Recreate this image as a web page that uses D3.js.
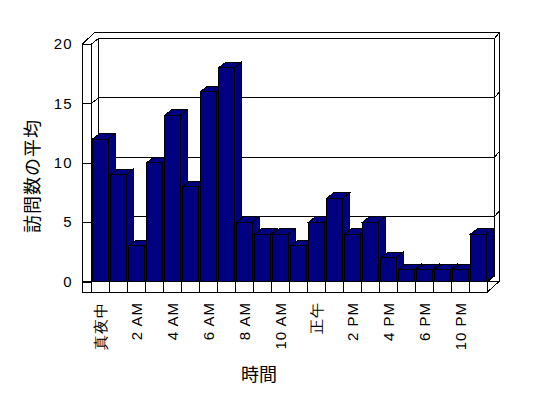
<!DOCTYPE html>
<html>
<head>
<meta charset="utf-8">
<script src="https://cdn.jsdelivr.net/npm/d3@7"></script>
<style>
  body { margin: 0; background: #fff; }
  svg { display: block; font-family: "Liberation Sans", "Noto Sans CJK JP", sans-serif; }
</style>
</head>
<body>
<svg></svg>
<script>
// Defining variables
const width = 548
const height = 398

// chart data
const hours = ['真夜中', '1 AM', '2 AM', '3 AM', '4 AM', '5 AM', '6 AM', '7 AM', '8 AM', '9 AM', '10 AM', '11 AM',
               '正午', '1 PM', '2 PM', '3 PM', '4 PM', '5 PM', '6 PM', '7 PM', '10 PM', '11 PM']
const visits = [12, 9, 3, 10, 14, 8, 16, 18, 5, 4, 4, 3, 5, 7, 4, 5, 2, 1, 1, 1, 1, 4]
const yTicks = [0, 5, 10, 15, 20]
const xLabels = hours.filter((d, i) => i % 2 === 0)
const yTitle = '訪問数の平均'
const xTitle = '時間'

// 3d box layout
const x0 = 91.5, x1 = 487.5
const wallOuter = 82.5
const floorBottom = 292
const dx = 7, dy = -5.5       // depth of the plot
const tx = 5, ty = -6         // wall thickness

const svg = d3.select('svg')
                .attr('width', width)
                .attr('height', height)

const xScale = d3.scaleBand()
                .domain(hours)
                .range([x0, x1])
                .paddingInner(0.13)
                .paddingOuter(0.065)

const yScale = d3.scaleLinear()
                .domain([0, 20])
                .range([281.5, 44])

const pts = arr => arr.map(p => p.join(',')).join(' ')

let drawWalls = () => {
    const yTop = yScale(20), yBase = yScale(0)
    const g = svg.append('g')
                .attr('fill', '#fff')
                .attr('stroke', '#000')
                .attr('shape-rendering', 'crispEdges')

    // outer silhouette
    g.append('polygon')
        .attr('points', pts([[wallOuter, yTop], [wallOuter + dx + tx, yTop + dy + ty], [x1 + dx + tx, yTop + dy + ty],
                             [x1 + dx + tx, yBase + dy + ty + 11], [x1, floorBottom], [wallOuter, floorBottom]]))

    // back wall face
    g.append('rect')
        .attr('x', x0 + dx).attr('y', yTop + dy)
        .attr('width', x1 - x0).attr('height', yBase - yTop)

    g.append('line')
        .attr('x1', x1 + dx).attr('y1', yTop + dy)
        .attr('x2', x1 + dx + tx).attr('y2', yTop + dy + ty)

    // left wall inner face
    g.append('polygon')
        .attr('points', pts([[x0, yTop], [x0 + dx, yTop + dy], [x0 + dx, yBase + dy], [x0, yBase]]))

    // gridlines
    yTicks.filter(v => v > 0 && v < 20).forEach(v => {
        const y = yScale(v)
        g.append('polyline')
            .attr('fill', 'none')
            .attr('points', pts([[x0, y], [x0 + dx, y + dy], [x1 + dx, y + dy], [x1 + dx + tx, y + dy + ty]]))
    })

    // floor top and right edges
    g.append('polygon')
        .attr('points', pts([[x0, yBase], [x1, yBase], [x1 + dx, yBase + dy], [x0 + dx, yBase + dy]]))
    g.append('line')
        .attr('x1', x1).attr('y1', yBase)
        .attr('x2', x1 + dx + tx).attr('y2', yBase + dy + ty + 11)

    // left wall front face
    g.append('rect')
        .attr('x', wallOuter).attr('y', yTop)
        .attr('width', x0 - wallOuter).attr('height', floorBottom - yTop)
    g.append('line')
        .attr('x1', x0).attr('y1', yTop)
        .attr('x2', x0 + dx).attr('y2', yTop + dy)

    // floor front face with category cells
    g.append('rect')
        .attr('x', wallOuter).attr('y', yBase)
        .attr('width', x1 - wallOuter).attr('height', floorBottom - yBase)
    hours.forEach((h, i) => {
        const x = x0 + xScale.step() * i
        g.append('line')
            .attr('x1', x).attr('y1', yBase)
            .attr('x2', x).attr('y2', floorBottom)
    })
}

let drawBars = () => {
    const w = xScale.bandwidth()
    const base = yScale(0)
    const bars = svg.append('g')
                    .selectAll('g')
                    .data(hours.map((h, i) => ({ hour: h, value: visits[i] })))
                    .enter()
                    .append('g')
                    .attr('fill', '#000080')
                    .attr('stroke', '#000')
                    .attr('shape-rendering', 'crispEdges')

    bars.append('polygon')
        .attr('points', d => {
            const x = xScale(d.hour), y = yScale(d.value)
            return pts([[x + w, y], [x + w + dx, y + dy], [x + w + dx, base + dy], [x + w, base]])
        })
    bars.append('polygon')
        .attr('points', d => {
            const x = xScale(d.hour), y = yScale(d.value)
            return pts([[x, y], [x + w, y], [x + w + dx, y + dy], [x + dx, y + dy]])
        })
    bars.append('rect')
        .attr('x', d => xScale(d.hour))
        .attr('y', d => yScale(d.value))
        .attr('width', w)
        .attr('height', d => base - yScale(d.value))
}

let generateAxes = () => {
    const yAxis = d3.axisLeft(yScale)
                    .tickValues(yTicks)
                    .tickSize(x0 - wallOuter)
                    .tickPadding(10)
    const gy = svg.append('g')
                .attr('transform', 'translate(' + x0 + ', 0)')
                .call(yAxis)
    gy.select('.domain').remove()
    gy.selectAll('line').attr('stroke', '#000').attr('shape-rendering', 'crispEdges')
    gy.selectAll('text')
        .attr('fill', '#000')
        .style('font-size', '15px')
        .style('letter-spacing', '1px')

    const xAxis = d3.axisBottom(xScale)
                    .tickValues(xLabels)
                    .tickSize(0)
    const gx = svg.append('g')
                .attr('transform', 'translate(0, 302)')
                .call(xAxis)
    gx.select('.domain').remove()
    gx.selectAll('text')
        .attr('transform', 'rotate(-90)')
        .attr('x', 0)
        .attr('y', 0)
        .attr('dy', '0.35em')
        .attr('fill', '#000')
        .style('text-anchor', 'end')
        .style('font-size', '15px')
        .style('letter-spacing', '1px')

    svg.append('text')
        .attr('transform', 'translate(33, 176) rotate(-90)')
        .attr('text-anchor', 'middle')
        .attr('dominant-baseline', 'central')
        .style('font-size', '18px')
        .style('letter-spacing', '1px')
        .text(yTitle)

    svg.append('text')
        .attr('x', 259)
        .attr('y', 375)
        .attr('text-anchor', 'middle')
        .attr('dominant-baseline', 'central')
        .style('font-size', '18px')
        .text(xTitle)
}

drawWalls()
drawBars()
generateAxes()
</script>
</body>
</html>
